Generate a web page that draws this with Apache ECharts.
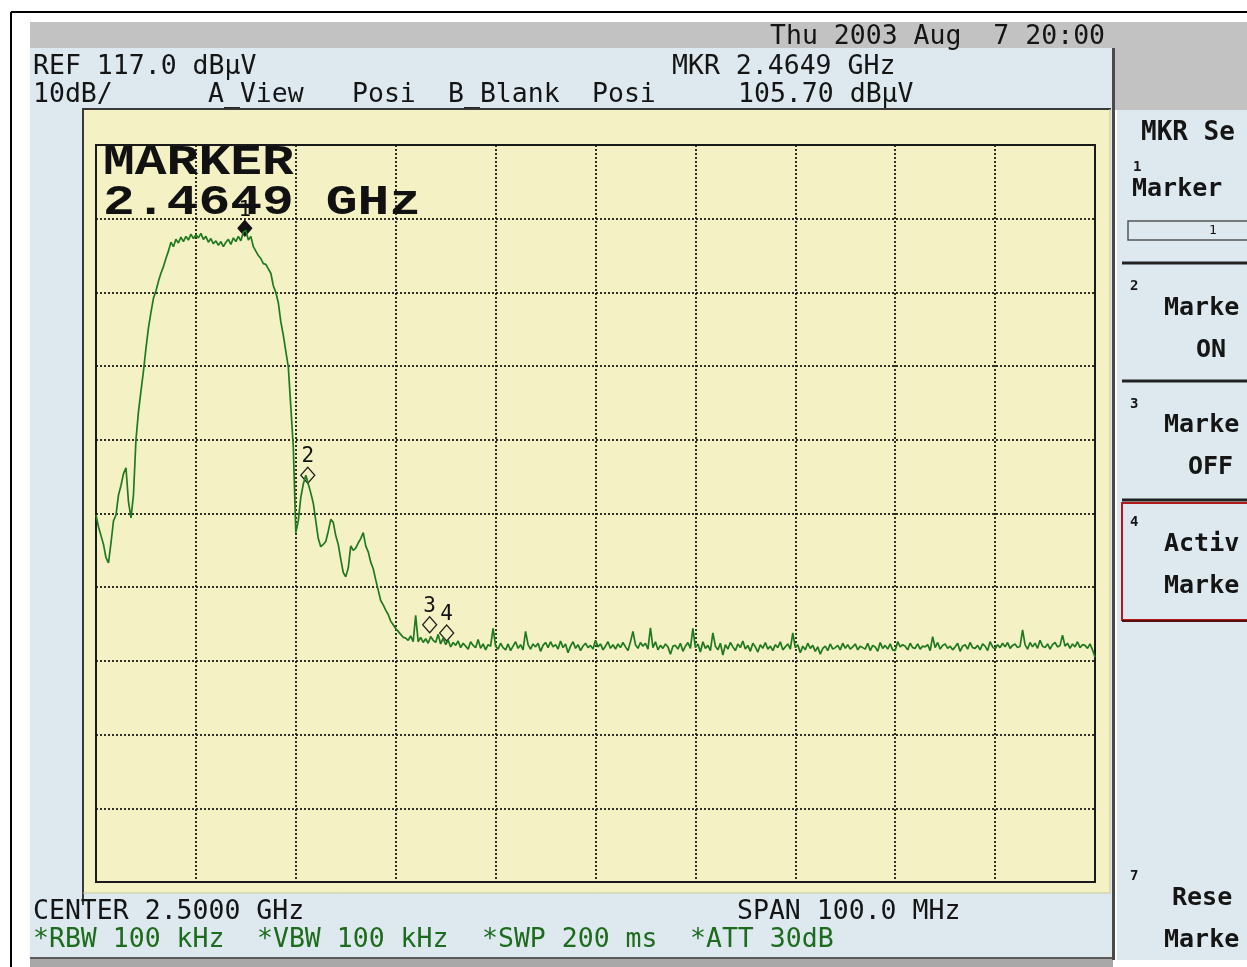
<!DOCTYPE html>
<html><head><meta charset="utf-8">
<script src="https://cdn.jsdelivr.net/npm/echarts@6/dist/echarts.min.js"></script>
<style>html,body{margin:0;padding:0;background:#fff}#c{width:1247px;height:967px}</style>
</head><body><div id="c"></div><script>
// ---- sweep settings (from the analyzer header) ----
const sweepStartMHz = 2450;     // CENTER 2.5000 GHz - SPAN/2
const sweepStopMHz = 2550;      // CENTER 2.5000 GHz + SPAN/2
const sweepStepMHz = 0.25;
const refLevelDbuV = 117;
const dbPerDiv = 10;
const divisions = 10;

// ---- trace levels (dBuV), one per sweep point ----
const levelDbuV = [
  66.8,65.2,64.0,62.8,  61.0,60.3,63.0,66.0,  66.8,69.5,70.8,72.4,  73.2,68.6,66.4,69.5,
  77.0,80.8,83.6,86.3,  89.4,92.2,94.3,96.2,  97.2,98.5,99.6,100.5, 101.6,102.6,103.8,103.2,
  104.2,103.7,104.5,103.9, 104.6,104.1,104.9,104.3, 104.8,104.4,105.0,104.2, 104.6,103.8,104.3,103.6,
  104.0,103.4,103.9,103.2, 103.8,104.2,103.5,104.4, 103.9,104.6,104.0,105.2, 105.4,104.1,104.6,103.2,
  102.6,102.0,101.6,100.9, 100.8,100.2,99.6,97.9, 97.0,95.6,93.0,91.2, 89.0,86.9,81.5,76.0,
  64.4,66.0,69.2,71.0,  72.2,71.0,69.8,68.4,  66.0,63.6,62.5,62.8,  63.2,64.6,66.2,65.8,
  64.0,62.8,60.8,59.0,  58.4,59.6,62.6,62.0,  62.3,63.0,63.6,64.4,  62.6,61.8,60.4,59.5,
  58.0,56.6,55.2,54.6,  53.9,53.3,52.4,51.9,  51.4,51.0,50.6,50.2,  50.1,49.8,50.4,49.6,
  53.2,49.6,50.2,49.5,  50.0,49.4,50.3,49.8,  49.5,50.6,49.3,50.1,  49.2,49.8,48.9,49.5,
  49.1,49.7,48.8,49.4,  49.0,48.6,49.6,49.1,  48.8,49.9,48.7,49.3,  48.5,49.2,49.0,51.4,
  49.0,48.6,49.4,48.8,  48.5,49.3,48.4,49.0,  49.6,48.7,49.2,48.5,  51.0,49.2,48.6,49.3,
  48.9,49.4,48.3,49.1,  49.5,48.8,49.6,48.9,  49.2,48.6,49.7,48.8,  49.3,48.1,49.0,49.6,
  48.7,49.2,48.4,49.0,  49.4,48.8,49.1,48.6,  49.8,48.9,49.3,48.5,  49.0,49.6,48.7,49.2,
  48.6,49.3,48.8,49.5,  48.9,48.4,49.6,51.0,  49.2,48.7,49.5,49.0,  49.4,48.6,51.5,48.8,
  49.6,48.5,49.1,48.7,  49.3,48.9,47.9,49.0,  49.1,48.6,49.4,48.3,  49.0,49.5,48.7,51.4,
  48.8,49.3,48.2,49.6,  48.7,49.1,48.4,50.8,  49.0,48.5,49.4,47.8,  49.2,48.6,49.5,48.9,
  48.4,49.3,48.8,49.7,  48.6,49.1,48.3,49.4,  48.9,48.2,49.2,48.7,  49.5,48.6,49.0,48.4,
  49.2,48.8,49.6,48.5,  48.9,49.3,48.6,50.8,  48.8,49.2,48.1,49.0,  48.5,49.4,48.7,49.1,
  48.3,48.9,47.9,48.7,  49.0,48.4,49.3,48.6,  48.8,49.1,48.5,49.4,  48.7,49.2,48.6,48.9,
  49.3,48.5,49.0,48.8,  48.6,49.4,48.4,49.1,  48.9,48.3,49.5,48.7,  49.1,48.6,49.3,48.5,
  48.4,49.6,48.9,49.2,  49.0,48.5,49.4,48.8,  48.7,49.3,48.6,49.0,  48.9,49.2,48.4,50.3,
  48.8,49.5,48.6,49.1,  49.3,48.7,49.0,48.5,  48.9,49.4,48.3,49.0,  49.2,48.6,49.5,48.8,
  48.7,49.1,48.5,49.3,  49.0,48.4,49.6,48.9,  48.6,49.2,48.8,49.4,  48.9,49.5,48.7,49.1,
  49.3,48.8,49.0,51.2,  49.2,48.6,49.5,48.9,  49.4,48.7,49.8,49.0,  48.8,49.3,48.6,49.2,
  49.5,48.9,49.1,50.5,  49.0,49.4,48.7,49.3,  48.9,49.6,48.8,49.2,  49.1,48.7,49.3,48.5,
  47.5
];

// ---- markers ----
const markerNames   = ['1', '2', '3', '4'];
const markerFreqMHz = [2464.9, 2471.2, 2483.4, 2485.1];
const markerLevel   = [105.7, 72.2, 51.9, 50.8];
const markerFilled  = [true, false, false, false];

// ---- screen texts ----
const headerDate = 'Thu 2003 Aug  7 20:00';
const refText = 'REF 117.0 dBµV';
const scaleText = '10dB/';
const viewTexts = ['A_View', 'Posi', 'B_Blank', 'Posi'];
const mkrFreqText = 'MKR 2.4649 GHz';
const mkrLevelText = '105.70 dBµV';
const bigMarkerLines = ['MARKER', '2.4649 GHz'];
const centerText = 'CENTER 2.5000 GHz';
const spanText = 'SPAN 100.0 MHz';
const bwTexts = ['*RBW 100 kHz', '*VBW 100 kHz', '*SWP 200 ms', '*ATT 30dB'];

const traceData = levelDbuV.map((v, i) => [sweepStartMHz + i * sweepStepMHz, v]);

const MONO = '"DejaVu Sans Mono", "Liberation Mono", monospace';
const SCREEN_FONT = '26.5px ' + MONO;
const styled = (t, x, y, font, fill, extra) => Object.assign({
  type: 'text', x: x, y: y, z: 50, silent: true,
  style: { text: t, font: font, fill: fill || '#151515', textVerticalAlign: 'middle' }
}, extra || {});
const scr = (t, x, y, fill) => styled(t, x, y, SCREEN_FONT, fill || '#151515');
const rect = (x, y, w, h, style, z) => ({ type: 'rect', z: z == null ? -10 : z, silent: true, shape: { x, y, width: w, height: h }, style });
const line = (x1, y1, x2, y2, stroke, lw, z) => ({ type: 'line', z: z == null ? -5 : z, silent: true, shape: { x1, y1, x2, y2 }, style: { stroke, lineWidth: lw } });

const BLUE = '#dde9ee', GRAY = '#c2c2c2', YEL = '#f4f1c4', GREEN_TXT = '#1d6b1d';
const PANEL_BOLD = 'bold 25px ' + MONO;
const SMALL_BOLD = 'bold 14px ' + MONO;
const BIG_FONT = 'bold 53px "Liberation Mono", monospace';

const graphics = [
  // panels
  rect(30, 48, 1083, 912, { fill: BLUE }),
  rect(30, 22, 1217, 26, { fill: GRAY }),
  rect(1113, 22, 134, 88, { fill: GRAY }),
  rect(1117, 110, 130, 850, { fill: BLUE }),
  rect(1112, 48, 3, 912, { fill: '#4a4a4a' }, -4),
  rect(83, 109, 1027, 784, { fill: YEL }),
  line(82, 109, 1111, 109, '#3a3a3a', 2),
  line(83, 109, 83, 905, '#3a3a3a', 2),
  line(1110, 109, 1110, 893, '#c9c9a0', 1),
  line(83, 893, 1110, 893, '#c9c9a0', 1),
  rect(30, 958, 1083, 9, { fill: '#a8a8a8' }),
  line(30, 958, 1113, 958, '#5a5a5a', 2),
  // outer frame
  line(11, 12, 1247, 12, '#000', 2, 60),
  line(11, 12, 11, 967, '#000', 2, 60),
  // header
  scr(headerDate, 770, 37),
  scr(refText, 33, 67),
  scr(mkrFreqText, 672, 67),
  scr(scaleText, 33, 95),
  scr(viewTexts[0], 208, 95),
  scr(viewTexts[1], 352, 95),
  scr(viewTexts[2], 448, 95),
  scr(viewTexts[3], 592, 95),
  scr(mkrLevelText, 738, 95),
  // big marker readout inside the plot
  styled(bigMarkerLines[0], 103, 163, BIG_FONT, '#111', { scaleY: 0.8 }),
  styled(bigMarkerLines[1], 103, 203, BIG_FONT, '#111', { scaleY: 0.8 }),
  // footer
  scr(centerText, 33, 912),
  scr(spanText, 737, 912),
  scr(bwTexts[0], 33, 940, GREEN_TXT),
  scr(bwTexts[1], 257, 940, GREEN_TXT),
  scr(bwTexts[2], 482, 940, GREEN_TXT),
  scr(bwTexts[3], 690, 940, GREEN_TXT),
  // right soft-key panel
  styled('MKR Se', 1141, 133, 'bold 26px ' + MONO),
  styled('1', 1133, 167, SMALL_BOLD),
  styled('Marker', 1132, 189, PANEL_BOLD),
  rect(1128, 221, 125, 19, { fill: 'none', stroke: '#555', lineWidth: 1.5 }, 20),
  styled('1', 1209, 231, '13px ' + MONO),
  line(1122, 263, 1247, 263, '#222', 3, 20),
  styled('2', 1130, 286, SMALL_BOLD),
  styled('Marke', 1164, 308, PANEL_BOLD),
  styled('ON', 1196, 350, PANEL_BOLD),
  line(1122, 381, 1247, 381, '#222', 3, 20),
  styled('3', 1130, 404, SMALL_BOLD),
  styled('Marke', 1164, 425, PANEL_BOLD),
  styled('OFF', 1188, 467, PANEL_BOLD),
  line(1122, 500, 1247, 500, '#222', 3, 20),
  rect(1122, 503, 130, 117, { fill: 'none', stroke: '#b51a1a', lineWidth: 2 }, 20),
  line(1122, 621, 1247, 621, '#5a1010', 2, 20),
  styled('4', 1130, 522, SMALL_BOLD),
  styled('Activ', 1164, 544, PANEL_BOLD),
  styled('Marke', 1164, 586, PANEL_BOLD),
  styled('7', 1130, 876, SMALL_BOLD),
  styled('Rese', 1172, 898, PANEL_BOLD),
  styled('Marke', 1164, 940, PANEL_BOLD)
];

const gridDash = { color: '#1a1a1a', type: [2, 2], width: 1.8 };

const markPointData = markerNames.map((n, i) => ({
  coord: [markerFreqMHz[i], markerLevel[i]],
  symbol: 'diamond',
  symbolSize: [14, 16],
  itemStyle: markerFilled[i]
    ? { color: '#111', borderColor: '#111', borderWidth: 1 }
    : { color: 'rgba(0,0,0,0)', borderColor: '#222', borderWidth: 1.3 },
  label: { show: true, position: 'top', distance: -1, formatter: n, color: '#111', fontSize: 21, fontFamily: MONO }
}));

const chart = echarts.init(document.getElementById('c'), null, { renderer: 'canvas' });
chart.setOption({
  animation: false,
  backgroundColor: '#ffffff',
  graphic: { elements: graphics },
  grid: { left: 96, top: 145, width: 999, height: 737, show: true, borderColor: '#1a1a1a', borderWidth: 2, backgroundColor: 'transparent', z: 3 },
  xAxis: {
    type: 'value', min: sweepStartMHz, max: sweepStopMHz, interval: 10,
    axisLine: { show: false }, axisTick: { show: false }, axisLabel: { show: false },
    splitLine: { show: true, lineStyle: gridDash }
  },
  yAxis: [
    { type: 'value', min: refLevelDbuV - dbPerDiv * divisions, max: refLevelDbuV, show: false },
    { type: 'value', min: 0, max: divisions, interval: 1,
      axisLine: { show: false }, axisTick: { show: false }, axisLabel: { show: false },
      splitLine: { show: true, lineStyle: gridDash } }
  ],
  series: [{
    type: 'line', yAxisIndex: 0, data: traceData, symbol: 'none', silent: true, z: 5,
    lineStyle: { color: '#1f7a1f', width: 1.7 },
    markPoint: { silent: true, data: markPointData }
  }]
});
</script></body></html>
